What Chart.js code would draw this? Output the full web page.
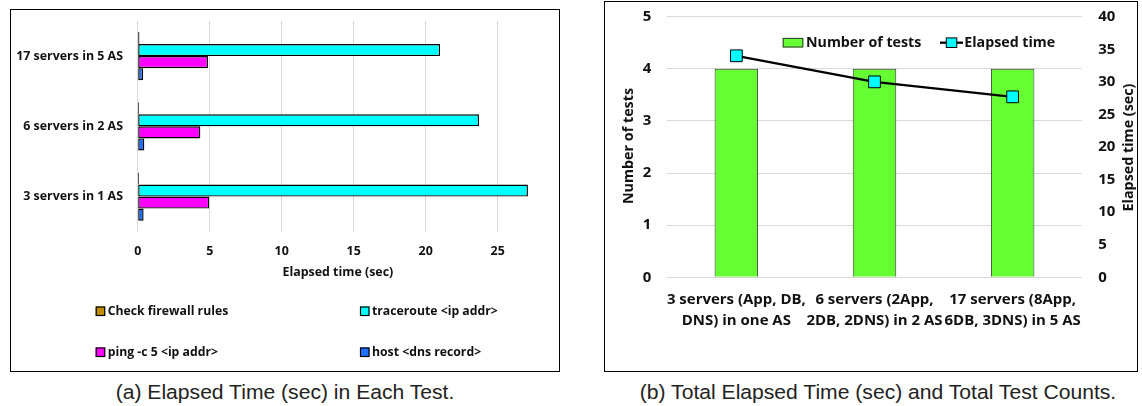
<!DOCTYPE html>
<html><head><meta charset="utf-8">
<script src="https://cdn.jsdelivr.net/npm/chart.js@4.4.1/dist/chart.umd.min.js"></script>
<style>
html,body{margin:0;padding:0;background:#fff;width:1142px;height:406px;overflow:hidden;position:relative}
.box{position:absolute;border:1px solid #000;box-sizing:border-box}
canvas{position:absolute}
.cap{position:absolute;font-family:"Liberation Sans",Arial,sans-serif;color:#222;white-space:nowrap;transform:translate(-50%,-50%)}
</style></head><body>
<div class="box" style="left:10px;top:9px;width:550px;height:363px"></div>
<div class="box" style="left:604px;top:1px;width:534px;height:371px"></div>
<canvas id="c1" width="547" height="360" style="left:11px;top:10px"></canvas>
<canvas id="c2" width="532" height="368" style="left:605px;top:2px"></canvas>
<div class="cap" id="capA" style="left:285px;top:392px">(a) Elapsed Time (sec) in Each Test.</div>
<div class="cap" id="capB" style="left:878px;top:392px">(b) Total Elapsed Time (sec) and Total Test Counts.</div>
<script>
// ---- data (a) ----
const leftCategories = ["17 servers in 5 AS", "6 servers in 2 AS", "3 servers in 1 AS"];
const seriesNames = ["Check firewall rules", "traceroute <ip addr>", "ping -c 5 <ip addr>", "host <dns record>"];
const firewallTimes = [0.12, 0.1, 0.1];
const tracerouteTimes = [21.0, 23.7, 27.1];
const pingTimes = [4.88, 4.35, 4.97];
const hostTimes = [0.37, 0.46, 0.41];
const leftXTicks = [0, 5, 10, 15, 20, 25];

// ---- data (b) ----
const rightCategories = [["3 servers (App, DB,", "DNS) in one AS"], ["6 servers (2App,", "2DB, 2DNS) in 2 AS"], ["17 servers (8App,", "6DB, 3DNS) in 5 AS"]];
const testCounts = [4, 4, 4];
const elapsedTimes = [34.0, 30.0, 27.7];
const countTicks = [0, 1, 2, 3, 4, 5];
const elapsedTicks = [0, 5, 10, 15, 20, 25, 30, 35, 40];

const FAM = "'Open Sans', 'Noto Sans', sans-serif";
const mctx = document.createElement('canvas').getContext('2d');
function fit(text, w, weight, fam) {
  mctx.font = (weight || 'bold') + ' 100px ' + (fam || FAM);
  return 100 * w / mctx.measureText(text).width;
}
const sLeft = fit("17 servers in 5 AS", 107);
const sLeftLegend = fit("Check firewall rules", 120.6);
const sLeftTitle = fit("Elapsed time (sec)", 111);
const sRightCat = fit("3 servers (App, DB,", 139);
const sRightLegend = fit("Elapsed time", 91);
const sRightTitle = fit("Elapsed time (sec)", 128);
const sCap = fit("(b) Total Elapsed Time (sec) and Total Test Counts.", 478, 'normal', "'Liberation Sans', Arial, sans-serif");
document.getElementById('capA').style.fontSize = sCap + 'px';
document.getElementById('capB').style.fontSize = sCap + 'px';

Chart.defaults.font.family = FAM;
Chart.defaults.font.weight = 'bold';
Chart.defaults.color = '#111';
const B = (size, lh) => ({family: FAM, size: size, weight: 'bold', lineHeight: lh || 1.2});

function vFit(w) { return s => { s.width = w; s.paddingTop = 0; s.paddingBottom = 0; }; }
function hFit(h) { return s => { s.height = h; s.paddingLeft = 0; s.paddingRight = 0; }; }
function pinTop(chart, top) {
  for (let i = 0; i < 3; i++) {
    const d = top - chart.chartArea.top;
    if (Math.abs(d) < 0.05) break;
    chart.options.layout.padding.top += d;
    chart.update('none');
  }
}

// legend for chart (a)
const leftLegend = {
  id: 'leftLegend',
  afterDraw(chart) {
    const ctx = chart.ctx, ox = 11, oy = 10;
    const pos = [[95.7, 311], [360, 311], [95.7, 352], [360, 352]];
    ctx.save();
    ctx.font = "bold " + sLeftLegend + "px " + FAM;
    ctx.textBaseline = 'middle';
    chart.data.datasets.forEach((ds, i) => {
      const x = pos[i][0] - ox, y = pos[i][1] - oy;
      ctx.fillStyle = ds.backgroundColor;
      ctx.fillRect(x, y - 4.5, 9.5, 9.5);
      ctx.strokeStyle = '#000'; ctx.lineWidth = 1.2;
      ctx.strokeRect(x + 0.5, y - 4, 8.5, 8.5);
      ctx.fillStyle = '#111';
      ctx.fillText(ds.label, x + 12, y + 0.5);
    });
    ctx.restore();
  }
};

const chartA = new Chart(document.getElementById('c1'), {
  type: 'bar',
  data: {
    labels: leftCategories,
    datasets: [
      {label: seriesNames[0], data: firewallTimes, backgroundColor: '#BF8F00'},
      {label: seriesNames[1], data: tracerouteTimes, backgroundColor: '#00FFFF'},
      {label: seriesNames[2], data: pingTimes, backgroundColor: '#FF00FF'},
      {label: seriesNames[3], data: hostTimes, backgroundColor: '#1F6FFF'}
    ].map(d => Object.assign(d, {borderColor: '#000', borderWidth: 1.4, borderSkipped: false, categoryPercentage: 0.685, barPercentage: 1}))
  },
  options: {
    indexAxis: 'y', responsive: false, animation: false,
    layout: {padding: {top: 11, right: 20, left: 0, bottom: 0}},
    plugins: {legend: {display: false}, tooltip: {enabled: false}},
    scales: {
      x: {
        min: 0, max: 27.8,
        afterBuildTicks(s) { s.ticks = leftXTicks.map(v => ({value: v})); },
        ticks: {padding: 19.3 - sLeft * 0.6, font: B(sLeft), color: '#111'},
        grid: {color: '#d9d9d9', drawTicks: false},
        border: {display: false},
        title: {display: true, text: 'Elapsed time (sec)', font: B(sLeftTitle), color: '#111', padding: {top: 0, bottom: 97.3 - sLeftTitle * 0.6}},
        afterFit: hFit(138.3)
      },
      y: {
        ticks: {padding: 14.7, font: B(sLeft), color: '#111'},
        grid: {display: false, drawTicks: false},
        border: {display: false},
        afterFit: vFit(126.7)
      }
    }
  },
  plugins: [leftLegend]
});
pinTop(chartA, 11);

// legend + axis titles for chart (b)
const rightDecor = {
  id: 'rightDecor',
  afterDraw(chart) {
    const ctx = chart.ctx, ox = 605, oy = 2;
    const bar = chart.data.datasets[0], line = chart.data.datasets[1];
    ctx.save();
    ctx.font = "bold " + sRightLegend + "px " + FAM;
    ctx.textBaseline = 'middle';
    let y = 42.7 - oy;
    ctx.fillStyle = bar.backgroundColor;
    ctx.fillRect(782.7 - ox, y - 4.8, 20.6, 9.6);
    ctx.strokeStyle = '#333'; ctx.lineWidth = 1;
    ctx.strokeRect(782.7 - ox + 0.5, y - 4.8 + 0.5, 19.6, 8.6);
    ctx.fillStyle = '#111';
    ctx.fillText(bar.label, 806 - ox, y + 0.5);
    ctx.strokeStyle = '#000'; ctx.lineWidth = 2.3;
    ctx.beginPath(); ctx.moveTo(940 - ox, y); ctx.lineTo(963 - ox, y); ctx.stroke();
    ctx.fillStyle = line.pointBackgroundColor;
    ctx.fillRect(946.3 - ox, y - 4.8, 10.5, 9.6);
    ctx.lineWidth = 1;
    ctx.strokeRect(946.3 - ox, y - 4.8, 10.5, 9.6);
    ctx.fillStyle = '#111';
    ctx.fillText(line.label, 964.3 - ox, y + 0.5);
    ctx.textAlign = 'center';
    ctx.font = "bold " + sRightTitle + "px " + FAM;
    const titles = [['Number of tests', 629, 146], ['Elapsed time (sec)', 1129, 147.5]];
    titles.forEach(t => {
      ctx.save();
      ctx.translate(t[1] - ox, t[2] - oy);
      ctx.rotate(-Math.PI / 2);
      ctx.fillText(t[0], 0, 0);
      ctx.restore();
    });
    ctx.restore();
  }
};

const chartB = new Chart(document.getElementById('c2'), {
  data: {
    labels: rightCategories,
    datasets: [
      {type: 'bar', label: 'Number of tests', data: testCounts, yAxisID: 'y', backgroundColor: '#66FF33', borderColor: '#333', borderWidth: 1, borderSkipped: 'bottom', barPercentage: 0.315, categoryPercentage: 1, order: 1},
      {type: 'line', label: 'Elapsed time', data: elapsedTimes, yAxisID: 'y2', borderColor: '#000', borderWidth: 2.3, tension: 0, pointStyle: 'rect', pointRadius: 8.3, pointBackgroundColor: '#00FFFF', pointBorderColor: '#000', pointBorderWidth: 1, order: 0}
    ]
  },
  options: {
    responsive: false, animation: false,
    layout: {padding: {top: 14.7, right: 0, left: 0, bottom: 0}},
    plugins: {legend: {display: false}, tooltip: {enabled: false}},
    scales: {
      x: {
        ticks: {padding: 12.35, autoSkip: false, maxRotation: 0, minRotation: 0, font: B(sRightCat, 20.7 / sRightCat), color: '#111'},
        grid: {display: false, drawTicks: false},
        border: {display: false},
        afterFit: hFit(92.7)
      },
      y: {
        position: 'left', min: 0, max: 5,
        afterBuildTicks(s) { s.ticks = countTicks.map(v => ({value: v})); },
        ticks: {padding: 16, font: B(sRightCat), color: '#111'},
        grid: {color: '#d9d9d9', drawTicks: false},
        border: {display: false},
        afterFit: vFit(62.3)
      },
      y2: {
        position: 'right', min: 0, max: 40,
        afterBuildTicks(s) { s.ticks = elapsedTicks.map(v => ({value: v})); },
        ticks: {padding: 16.6, font: B(sRightCat), color: '#111'},
        grid: {display: false, drawTicks: false},
        border: {display: false},
        afterFit: vFit(55.3)
      }
    }
  },
  plugins: [rightDecor]
});
pinTop(chartB, 14.7);
</script>
</body></html>
